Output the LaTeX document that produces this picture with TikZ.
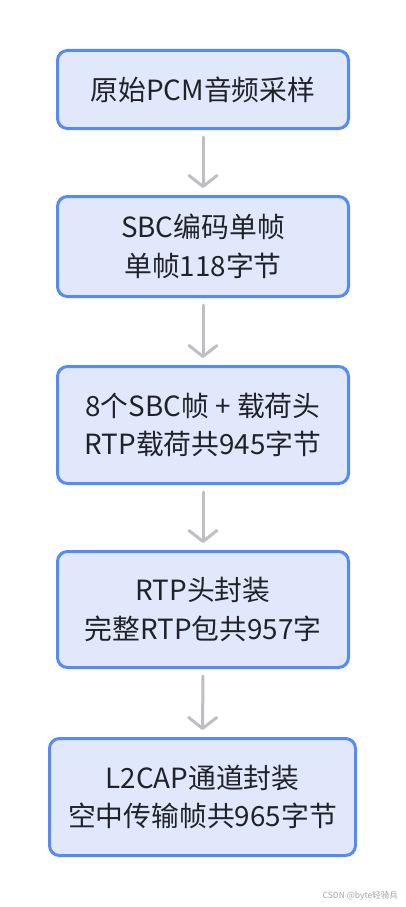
\documentclass[tikz,border=0pt]{standalone}
\usepackage{fontspec}
\setmainfont{Noto Sans CJK SC}
\usetikzlibrary{arrows.meta}
\definecolor{boxfill}{RGB}{225,232,252}
\definecolor{boxline}{RGB}{86,138,247}
\definecolor{arrowgray}{RGB}{190,191,196}
\definecolor{txt}{RGB}{31,35,41}
\begin{document}
\begin{tikzpicture}[x=1pt,y=-1pt,
  stagebox/.style={draw=boxline,fill=boxfill,line width=3pt,rounded corners=10pt,
    text=txt,align=center,inner sep=0pt,font=\fontsize{27.8}{38.5}\selectfont},
  flowarrow/.style={draw=arrowgray,line width=3pt,line cap=round,
    -{Straight Barb[length=11pt,width=28pt,line width=3pt,round]},
    shorten <=7pt,shorten >=7pt}]
\useasboundingbox (0,0) rectangle (406,907);
\fill[white] (0,0) rectangle (406,907);
\node[stagebox,minimum width=291pt,minimum height=78pt] (b1) at (203,89.5) {原始PCM音频采样};
\node[stagebox,minimum width=291pt,minimum height=100pt] (b2) at (203,246.5) {SBC编码单帧\\单帧118字节};
\node[stagebox,minimum width=291pt,minimum height=117pt] (b3) at (203,425) {8个SBC帧 + 载荷头\\RTP载荷共945字节};
\node[stagebox,minimum width=291pt,minimum height=116pt] (b4) at (203,609.5) {RTP头封装\\完整RTP包共957字};
\node[stagebox,minimum width=306pt,minimum height=117pt] (b5) at (202.5,797) {L2CAP通道封装\\空中传输帧共965字节};
\draw[flowarrow] (b1.south) -- (b2.north);
\draw[flowarrow] (b2.south) -- (b3.north);
\draw[flowarrow] (b3.south) -- (b4.north);
\draw[flowarrow] (b4.south) -- (b5.north);
\node[anchor=east,text=black!35,font=\fontsize{8.5}{10}\selectfont,inner sep=0pt] (wm) at (398,896) {CSDN @byte轻骑兵};
\end{tikzpicture}
\end{document}
